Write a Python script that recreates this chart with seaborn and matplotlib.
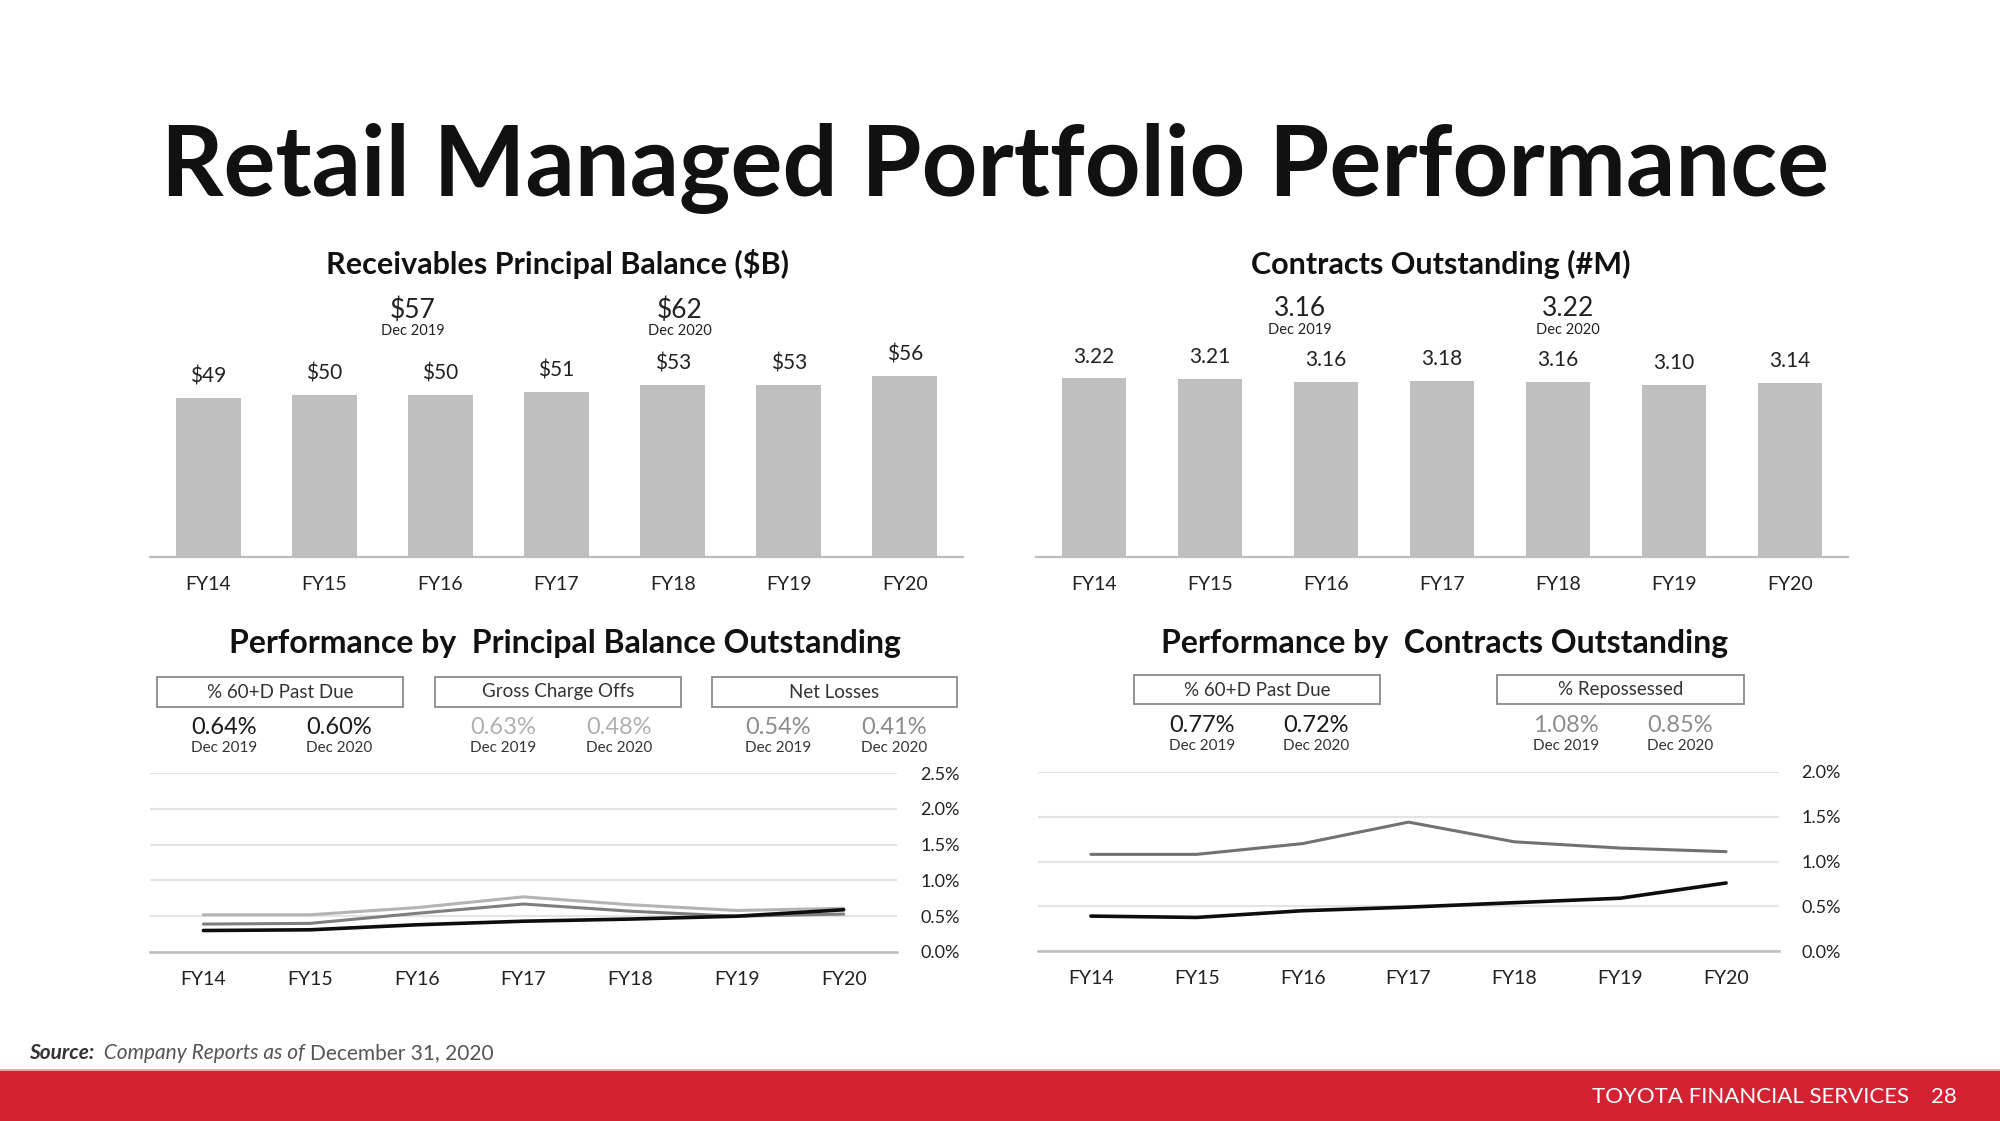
import numpy as np
import pandas as pd
import matplotlib
matplotlib.use('Agg')
import matplotlib.pyplot as plt
import seaborn as sns
from matplotlib.patches import Rectangle
from matplotlib.ticker import FuncFormatter

# ---------------- data ----------------
fiscal_years = ['FY14', 'FY15', 'FY16', 'FY17', 'FY18', 'FY19', 'FY20']
receivables_bn = [49, 50, 50, 51, 53, 53, 56]
receivables_labels = ['$49', '$50', '$50', '$51', '$53', '$53', '$56']
contracts_m = [3.22, 3.21, 3.16, 3.18, 3.16, 3.10, 3.14]
contracts_labels = ['3.22', '3.21', '3.16', '3.18', '3.16', '3.10', '3.14']

pbo_past_due = [0.30, 0.31, 0.38, 0.43, 0.46, 0.50, 0.59]
pbo_gross_charge_offs = [0.52, 0.52, 0.62, 0.77, 0.66, 0.58, 0.61]
pbo_net_losses = [0.39, 0.40, 0.54, 0.67, 0.57, 0.50, 0.53]
co_past_due = [0.39, 0.375, 0.45, 0.49, 0.54, 0.59, 0.76]
co_repossessed = [1.08, 1.08, 1.20, 1.44, 1.22, 1.15, 1.11]

pbo_ticks = [0.0, 0.5, 1.0, 1.5, 2.0, 2.5]
co_ticks = [0.0, 0.5, 1.0, 1.5, 2.0]

receivables_callouts = [('$57', 'Dec 2019'), ('$62', 'Dec 2020')]
contracts_callouts = [('3.16', 'Dec 2019'), ('3.22', 'Dec 2020')]
pbo_metrics = ['% 60+D Past Due', 'Gross Charge Offs', 'Net Losses']
pbo_dec2019 = ['0.64%', '0.63%', '0.54%']
pbo_dec2020 = ['0.60%', '0.48%', '0.41%']
co_metrics = ['% 60+D Past Due', '% Repossessed']
co_dec2019 = ['0.77%', '1.08%']
co_dec2020 = ['0.72%', '0.85%']

title = 'Retail Managed Portfolio Performance'
left_subtitle = 'Receivables Principal Balance ($B)'
right_subtitle = 'Contracts Outstanding (#M)'
left_perf = 'Performance by  Principal Balance Outstanding'
right_perf = 'Performance by  Contracts Outstanding'

# ---------------- style ----------------
sns.set_theme(style='white')
plt.rcParams['font.family'] = ['Lato', 'DejaVu Sans']

W, H = 2000, 1121
fig = plt.figure(figsize=(W / 100, H / 100), dpi=100)
fig.patch.set_facecolor('white')

TXT = '#222222'
BAR = '#BFBFBF'
GRID = '#E4E4E4'
AXLINE = '#BDBDBD'


def axrect(l, t, r, b):
    return [l / W, 1 - b / H, (r - l) / W, (b - t) / H]


def T(x, y, s, size, **kw):
    kw.setdefault('color', TXT)
    kw.setdefault('ha', 'center')
    kw.setdefault('va', 'center')
    return fig.text(x / W, 1 - y / H, s, fontsize=size, **kw)


def box(l, t, r, b):
    fig.add_artist(Rectangle((l / W, 1 - b / H), (r - l) / W, (b - t) / H,
                             transform=fig.transFigure, fill=False,
                             edgecolor='#8A8A8A', linewidth=1.3))


# ---------------- title ----------------
T(995, 168, title, 70, fontweight='bold', color='#111111')


# ---------------- bar charts ----------------
def bar_panel(rect, values, labels, px_per_unit, ax_h):
    ax = fig.add_axes(rect)
    df = pd.DataFrame({'fy': fiscal_years, 'v': values})
    sns.barplot(data=df, x='fy', y='v', color=BAR, saturation=1, width=0.56,
                edgecolor='none', ax=ax)
    ax.set_xlim(-0.5, 6.5)
    ax.set_ylim(0, ax_h / px_per_unit)
    for s in ['top', 'left', 'right']:
        ax.spines[s].set_visible(False)
    ax.spines['bottom'].set_color(AXLINE)
    ax.spines['bottom'].set_linewidth(1.6)
    ax.set_yticks([])
    ax.set_xlabel('')
    ax.set_ylabel('')
    ax.tick_params(axis='x', length=0, pad=14, labelsize=14, labelcolor=TXT)
    ax.set_facecolor('none')
    for i, (v, lab) in enumerate(zip(values, labels)):
        ax.annotate(lab, (i, v), xytext=(0, 15.5), textcoords='offset points',
                    ha='center', va='center', fontsize=15, color=TXT)
    return ax


bar_panel(axrect(150, 300, 963, 557), receivables_bn, receivables_labels, 3.24, 257)
bar_panel(axrect(1036, 300, 1848, 557), contracts_m, contracts_labels, 55.5, 257)

T(557, 264, left_subtitle, 22, fontweight='bold', color='#111111')
T(1441, 264, right_subtitle, 22, fontweight='bold', color='#111111')

for (val, d), x in zip(receivables_callouts, [413, 680]):
    T(x, 310, val, 19)
    T(x, 331, d, 10.5)
for (val, d), x in zip(contracts_callouts, [1300, 1568]):
    T(x, 309, val, 19)
    T(x, 330, d, 10.5)

# ---------------- performance headers ----------------
T(565, 643, left_perf, 23, fontweight='bold', color='#111111')
T(1445, 643, right_perf, 23, fontweight='bold', color='#111111')

left_boxes = [(157, 403), (435, 681), (712, 957)]
left_val_x = [(224, 339), (503, 619), (778, 894)]
left_val_col = ['#1a1a1a', '#b0b0b0', '#8c8c8c']
for name, (l, r), (x1, x2), c, a, b in zip(pbo_metrics, left_boxes, left_val_x,
                                            left_val_col, pbo_dec2019, pbo_dec2020):
    box(l, 677, r, 707)
    T((l + r) / 2, 692, name, 13.5, color='#333333')
    T(x1, 727, a, 17, color=c)
    T(x2, 727, b, 17, color=c)
    T(x1, 748, 'Dec 2019', 11, color='#333333')
    T(x2, 748, 'Dec 2020', 11, color='#333333')

right_boxes = [(1134, 1380), (1497, 1744)]
right_val_x = [(1202, 1316), (1566, 1680)]
right_val_col = ['#1a1a1a', '#8c8c8c']
for name, (l, r), (x1, x2), c, a, b in zip(co_metrics, right_boxes, right_val_x,
                                            right_val_col, co_dec2019, co_dec2020):
    box(l, 675, r, 704)
    T((l + r) / 2, 690, name, 13.5, color='#333333')
    T(x1, 726, a, 17, color=c)
    T(x2, 726, b, 17, color=c)
    T(x1, 746, 'Dec 2019', 11, color='#333333')
    T(x2, 746, 'Dec 2020', 11, color='#333333')


# ---------------- line charts ----------------
def line_panel(rect, series, ticks, pad):
    ax = fig.add_axes(rect)
    x = np.arange(len(fiscal_years))
    for vals, col, lw in series:
        sns.lineplot(x=x, y=vals, color=col, linewidth=lw, ax=ax, legend=False)
    ax.set_xlim(-0.5, 6.5)
    ax.set_ylim(0, ticks[-1])
    ax.set_yticks(ticks)
    ax.yaxis.set_major_formatter(FuncFormatter(lambda v, p: f'{v:.1f}%'))
    ax.yaxis.tick_right()
    ax.set_xticks(x)
    ax.set_xticklabels(fiscal_years)
    ax.tick_params(axis='both', length=0, labelsize=14, labelcolor=TXT)
    ax.tick_params(axis='x', pad=14)
    ax.tick_params(axis='y', pad=pad, labelsize=13)
    ax.grid(axis='y', color=GRID, linewidth=1.6)
    ax.grid(axis='x', visible=False)
    for s in ['top', 'left', 'right']:
        ax.spines[s].set_visible(False)
    ax.spines['bottom'].set_color(AXLINE)
    ax.spines['bottom'].set_linewidth(1.8)
    ax.set_facecolor('none')
    for ln in ax.lines:
        ln.set_clip_on(False)
    return ax


line_panel(axrect(150, 773, 897, 952),
           [(pbo_gross_charge_offs, '#B4B4B4', 2.2),
            (pbo_net_losses, '#7E7E7E', 2.2),
            (pbo_past_due, '#0d0d0d', 2.6)], pbo_ticks, 17)

line_panel(axrect(1038, 772, 1779, 951),
           [(co_repossessed, '#717171', 2.2),
            (co_past_due, '#0d0d0d', 2.6)], co_ticks, 16)

# ---------------- footer ----------------
fig.add_artist(Rectangle((0, 0), 1, 50 / H, transform=fig.transFigure,
                         facecolor='#D42232', edgecolor='none'))
fig.add_artist(Rectangle((0, 50 / H), 1, 2 / H, transform=fig.transFigure,
                         facecolor='#E7A3A8', edgecolor='none'))
T(1909, 1097, 'TOYOTA FINANCIAL SERVICES', 16, color='white', ha='right')
T(1944, 1097, '28', 16, color='white')

# source line with mixed styles
renderer = fig.canvas.get_renderer()
xcur = 29
for s, st, wt, col in [('Source:', 'italic', 'bold', '#333333'),
                       ('  Company Reports as of ', 'italic', 'normal', '#555555'),
                       ('December 31, 2020', 'normal', 'normal', '#555555')]:
    t = T(xcur, 1053, s, 15, ha='left', style=st, fontweight=wt, color=col)
    bb = t.get_window_extent(renderer=renderer)
    xcur += bb.width

fig.savefig('out.png', dpi=100, facecolor='white')
